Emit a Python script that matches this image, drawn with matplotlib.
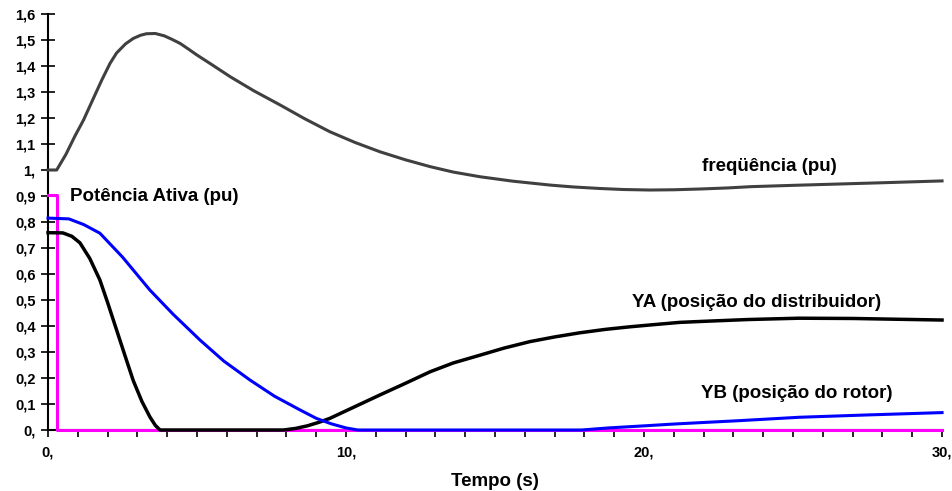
import numpy as np
import matplotlib
matplotlib.use("Agg")
import matplotlib.pyplot as plt
from matplotlib.ticker import MultipleLocator, FixedLocator

plt.rcParams['font.family'] = ['Liberation Sans', 'DejaVu Sans']
plt.rcParams['font.weight'] = 'bold'

# frequencia (pu)
t_freq = [0, 0.29, 0.6, 0.9, 1.19, 1.5, 1.8, 2.08, 2.3, 2.6, 2.86, 3.1, 3.3, 3.6, 3.9, 4.15,
          4.43, 4.7, 5.0, 5.5, 6.11, 6.9, 7.79, 8.6, 9.46, 10.3, 11.14, 12.0, 12.82, 13.6,
          14.5, 15.6, 16.85, 17.6, 18.5, 19.3, 20.2, 21.0, 21.9, 22.8, 23.6, 25.0, 26.5,
          28.0, 30]
freq = [1.0, 1.0, 1.06, 1.13, 1.192, 1.27, 1.345, 1.41, 1.45, 1.485, 1.506, 1.518, 1.524,
        1.525, 1.516, 1.503, 1.487, 1.466, 1.442, 1.405, 1.359, 1.305, 1.25, 1.198, 1.147,
        1.106, 1.07, 1.039, 1.013, 0.992, 0.974, 0.957, 0.942, 0.935, 0.929, 0.925, 0.923,
        0.924, 0.927, 0.931, 0.936, 0.941, 0.946, 0.951, 0.958]

# potencia ativa (pu)
t_pot = [0, 0.3, 0.3, 30]
pot = [0.905, 0.905, 0.0, 0.0]

# YA (posicao do distribuidor)
t_ya = [0, 0.5, 0.8, 1.07, 1.4, 1.74, 2.0, 2.3, 2.6, 2.86, 3.15, 3.42, 3.6, 3.76, 7.9, 8.3,
        8.7, 9.1, 9.46, 10.3, 11.14, 12.0, 12.82, 13.6, 14.5, 15.3, 16.17, 17.0, 17.85, 18.7,
        19.53, 20.4, 21.2, 22.0, 23.5, 25.2, 27.0, 28.5, 30]
ya = [0.759, 0.758, 0.745, 0.72, 0.66, 0.577, 0.49, 0.385, 0.28, 0.19, 0.11, 0.05, 0.018,
      0.0, 0.0, 0.006, 0.016, 0.03, 0.045, 0.09, 0.135, 0.18, 0.224, 0.258, 0.288, 0.315,
      0.34, 0.358, 0.374, 0.387, 0.397, 0.406, 0.414, 0.418, 0.425, 0.43, 0.429, 0.426, 0.423]

# YB (posicao do rotor)
t_yb = [0, 0.7, 1.2, 1.74, 2.5, 3.42, 4.2, 5.1, 5.9, 6.78, 7.6, 8.46, 9.0, 9.5, 10.0, 10.4,
        17.9, 18.8, 20.0, 21.0, 22.0, 23.2, 25.2, 27.5, 30]
yb = [0.815, 0.812, 0.79, 0.757, 0.665, 0.538, 0.445, 0.346, 0.265, 0.192, 0.13, 0.077,
      0.045, 0.024, 0.008, 0.0, 0.0, 0.008, 0.016, 0.023, 0.029, 0.036, 0.049, 0.058, 0.067]

yticks = [0.0, 0.1, 0.2, 0.3, 0.4, 0.5, 0.6, 0.7, 0.8, 0.9, 1.0, 1.1, 1.2, 1.3, 1.4, 1.5, 1.6]
ytick_labels = ["0,", "0,1", "0,2", "0,3", "0,4", "0,5", "0,6", "0,7", "0,8", "0,9",
                "1,", "1,1", "1,2", "1,3", "1,4", "1,5", "1,6"]
xticks = [0, 10, 20, 30]
xtick_labels = ["0,", "10,", "20,", "30,"]

fig = plt.figure(figsize=(9.53, 4.91), dpi=100)
ax = fig.add_axes([0.0504, 0.1242, 0.9381, 0.8473])

ax.plot(t_pot, pot, color='#FF00FF', lw=2.2, clip_on=False, zorder=3)
ax.plot(t_ya, ya, color='#000000', lw=2.5, clip_on=False, zorder=4, solid_joinstyle='round')
ax.plot(t_yb, yb, color='#0000FF', lw=2.2, clip_on=False, zorder=5, solid_joinstyle='round')
ax.plot(t_freq, freq, color='#404040', lw=2.2, clip_on=False, zorder=4, solid_joinstyle='round')

lab = dict(fontsize=13.5, fontweight='bold', va='center', ha='left')
ax.text(0.74, 0.9, "Potência Ativa (pu)", **lab)
ax.text(21.95, 1.012, "freqüência (pu)", **lab)
ax.text(19.6, 0.49, "YA (posição do distribuidor)", **lab)
ax.text(21.9, 0.142, "YB (posição do rotor)", **lab)

ax.set_xlim(0, 30)
ax.set_ylim(0, 1.6)
ax.yaxis.set_major_locator(FixedLocator(yticks))
ax.set_yticklabels(ytick_labels, fontsize=10.5, fontweight='bold')
ax.xaxis.set_major_locator(FixedLocator(xticks))
ax.set_xticklabels(xtick_labels, fontsize=10.5, fontweight='bold')
ax.xaxis.set_minor_locator(MultipleLocator(1))
ax.tick_params(axis='y', direction='inout', length=10, width=1.2, pad=4)
ax.tick_params(axis='x', which='both', direction='out', length=5, width=1.2, pad=6)
ax.set_xlabel("Tempo (s)", fontsize=13.5, fontweight='bold', labelpad=10)

for s in ['top', 'right']:
    ax.spines[s].set_visible(False)
for s in ['left', 'bottom']:
    ax.spines[s].set_linewidth(1.5)

fig.savefig("out.png", dpi=100)
